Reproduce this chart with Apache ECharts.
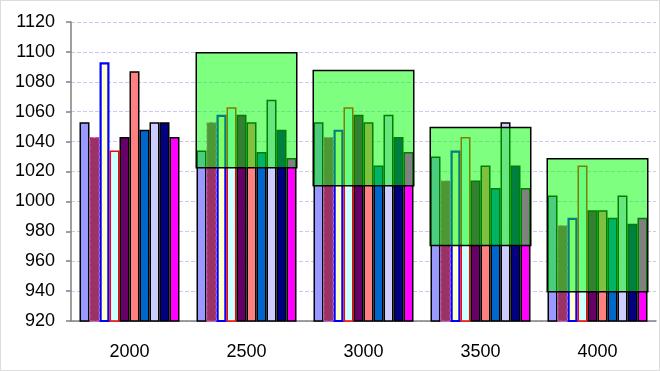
<!DOCTYPE html>
<html>
<head>
<meta charset="utf-8">
<script src="https://cdn.jsdelivr.net/npm/echarts@6/dist/echarts.min.js"></script>
<style>
html,body{margin:0;padding:0;background:#fff;}
#c{width:658px;height:369px;border:1px solid #dcdcdc;}
</style>
</head>
<body>
<div id="c"></div>
<script>
const categories = ['2000','2500','3000','3500','4000'];
const s1  = [1053, 1034, 1053, 1030, 1004];
const s2  = [1043, 1053, 1043, 1014, 984];
const s3  = [1093, 1058, 1048, 1034, 989];
const s4  = [1034, 1063, 1063, 1043, 1024];
const s5  = [1043, 1058, 1058, 1014, 994];
const s6  = [1087, 1053, 1053, 1024, 994];
const s7  = [1048, 1033, 1024, 1009, 989];
const s8  = [1053, 1068, 1058, 1053, 1004];
const s9  = [1053, 1048, 1043, 1024, 985];
const s10 = [1043, 1029, 1033, 1009, 989];
const boxLow  = [null, 1022, 1010, 970, 939];
const boxHigh = [null, 1100, 1088, 1050, 1029];
const yMin = 920, yMax = 1120, yStep = 20;

const seriesValues = [s1,s2,s3,s4,s5,s6,s7,s8,s9,s10];
const fills = ['#9999FF','#993366','#FFFFCC','#CCFFFF','#660066','#FF8080','#0066CC','#CCCCFF','#000080','#FF00FF'];
const borders = [
  {c:'#000000',w:1.5,t:'solid'},
  {c:'#E040C0',w:1,t:'dashed'},
  {c:'#0000FF',w:2.2,t:'solid'},
  {c:'#FF0000',w:1.5,t:'solid'},
  {c:'#000000',w:1.5,t:'solid'},
  {c:'#000000',w:1.5,t:'solid'},
  {c:'#000000',w:1.5,t:'solid'},
  {c:'#000000',w:1.5,t:'solid'},
  {c:'#000000',w:1.5,t:'solid'},
  {c:'#000000',w:1.5,t:'solid'}
];

const series = seriesValues.map((d,i)=>({
  type:'bar', xAxisIndex:0, data:d, barWidth:10, barGap:'0%',
  z:2,
  itemStyle:{color:fills[i], borderColor:borders[i].c, borderWidth:borders[i].w, borderType:borders[i].t},
  emphasis:{disabled:true}
}));
series.push({
  type:'bar', xAxisIndex:1, stack:'box', barWidth:102, z:5,
  data: boxLow.map(v=> v==null ? '-' : v),
  itemStyle:{color:'rgba(0,0,0,0)', borderWidth:0},
  emphasis:{disabled:true}
});
series.push({
  type:'bar', xAxisIndex:1, stack:'box', barWidth:102, z:5,
  data: boxHigh.map((v,i)=> v==null ? '-' : v - boxLow[i]),
  itemStyle:{color:'rgba(0,255,0,0.5)', borderColor:'#000', borderWidth:1.5},
  emphasis:{disabled:true}
});

const chart = echarts.init(document.getElementById('c'), null, {renderer:'canvas'});
chart.setOption({
  animation:false,
  backgroundColor:'#ffffff',
  grid:{left:70, right:3, top:21, bottom:49},
  xAxis:[{
    type:'category', data:categories,
    axisLine:{lineStyle:{color:'#808080', width:1.5}},
    axisTick:{length:5, lineStyle:{color:'#808080', width:1.5}},
    axisLabel:{color:'#000', fontSize:18, fontFamily:'Liberation Sans, Arial, sans-serif', margin:22}
  },{
    type:'category', data:categories, show:false
  }],
  yAxis:{
    type:'value', min:yMin, max:yMax, interval:yStep,
    axisLine:{show:true, lineStyle:{color:'#808080', width:1.5}},
    axisTick:{show:true, length:5, lineStyle:{color:'#808080', width:1.5}},
    axisLabel:{color:'#000', fontSize:18, fontFamily:'Liberation Sans, Arial, sans-serif', margin:16, formatter:v=>String(v)},
    splitLine:{show:true, lineStyle:{color:'#C8C8F4', type:'dashed', width:1}}
  },
  series:series
});
</script>
</body>
</html>
